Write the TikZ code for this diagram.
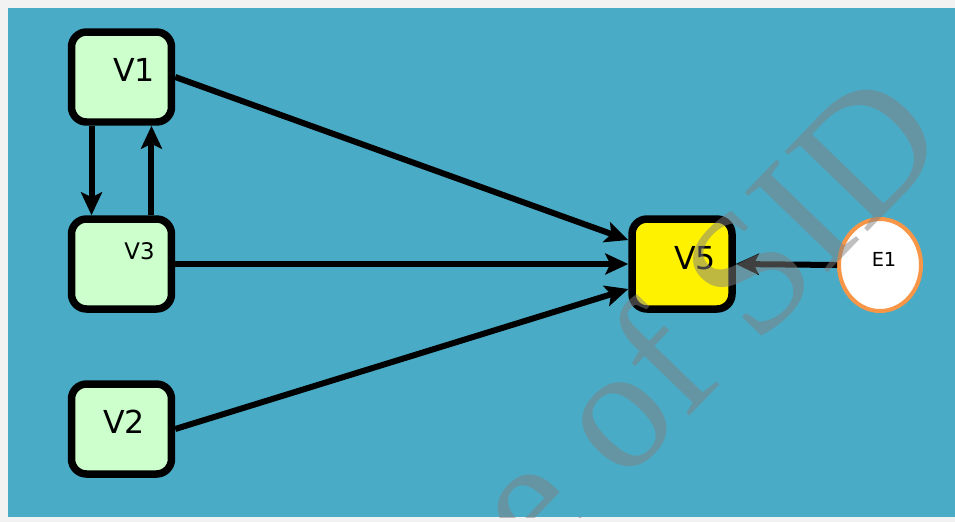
\documentclass[tikz,border=0pt]{standalone}
\usepackage{fontspec}
\setmainfont{DejaVu Sans}
\newfontfamily\wmfont{Liberation Serif}
\usetikzlibrary{arrows.meta,positioning,shapes.geometric}
\definecolor{bgteal}{HTML}{4AABC6}
\definecolor{boxgreen}{HTML}{CCFFCC}
\definecolor{eorange}{HTML}{F79646}
\definecolor{pageedge}{HTML}{F2F2F2}

\begin{document}
\begin{tikzpicture}[x=0.02cm,y=-0.02cm,-{Stealth[length=0.46cm,width=0.42cm,inset=0.1cm]},
    line width=0.12cm]
  \tikzstyle{var}=[draw=black,line width=0.15cm,fill=boxgreen,rounded corners=0.3cm,
    minimum width=2cm,minimum height=1.8cm,inner sep=0pt]
  \tikzstyle{lbl}=[font=\fontsize{18}{18}\selectfont]

  \useasboundingbox (0,0) rectangle (955,522);
  \fill[pageedge] (0,0) rectangle (955,522);
  \fill[bgteal] (8,8) rectangle (955,517);

  \node[var,label={[lbl,xshift=0.25cm,yshift=0.14cm]center:V1}] (V1) at (121.5,77) {};
  \node[var,label={[font=\fontsize{13}{13}\selectfont,xshift=0.36cm,yshift=0.26cm]center:V3}] (V3) at (121.5,264) {};
  \node[var,label={[lbl,xshift=0.05cm,yshift=0.14cm]center:V2}] (V2) at (121.5,429) {};
  \node[var,fill=yellow,label={[lbl,xshift=0.26cm,yshift=0.11cm]center:V5}] (V5) at (682,264) {};
  \node[ellipse,draw=eorange,line width=0.08cm,fill=white,minimum width=1.64cm,minimum height=1.84cm,
    label={[font=\fontsize{11}{11}\selectfont,xshift=0.08cm,yshift=0.12cm]center:E1}] (E1) at (880,265) {};

  \draw ([xshift=-0.6cm]V1.south) -- ([xshift=-0.6cm]V3.north);
  \draw ([xshift=0.6cm]V3.north) -- ([xshift=0.6cm]V1.south);
  \draw (V1.east) -- ([yshift=0.48cm]V5.west);
  \draw (V3.east) -- (V5.west);
  \draw (V2.east) -- ([yshift=-0.5cm]V5.west);
  \draw (E1.west) -- (V5.east);

  % watermark
  \begin{scope}
    \clip (8,8) rectangle (955,517);
    \node[text=gray,opacity=0.5,rotate=46,inner sep=0pt,
      font=\wmfont\fontsize{100}{100}\selectfont] (wm) at (702,316) {e of SID};
  \end{scope}
\end{tikzpicture}
\end{document}
